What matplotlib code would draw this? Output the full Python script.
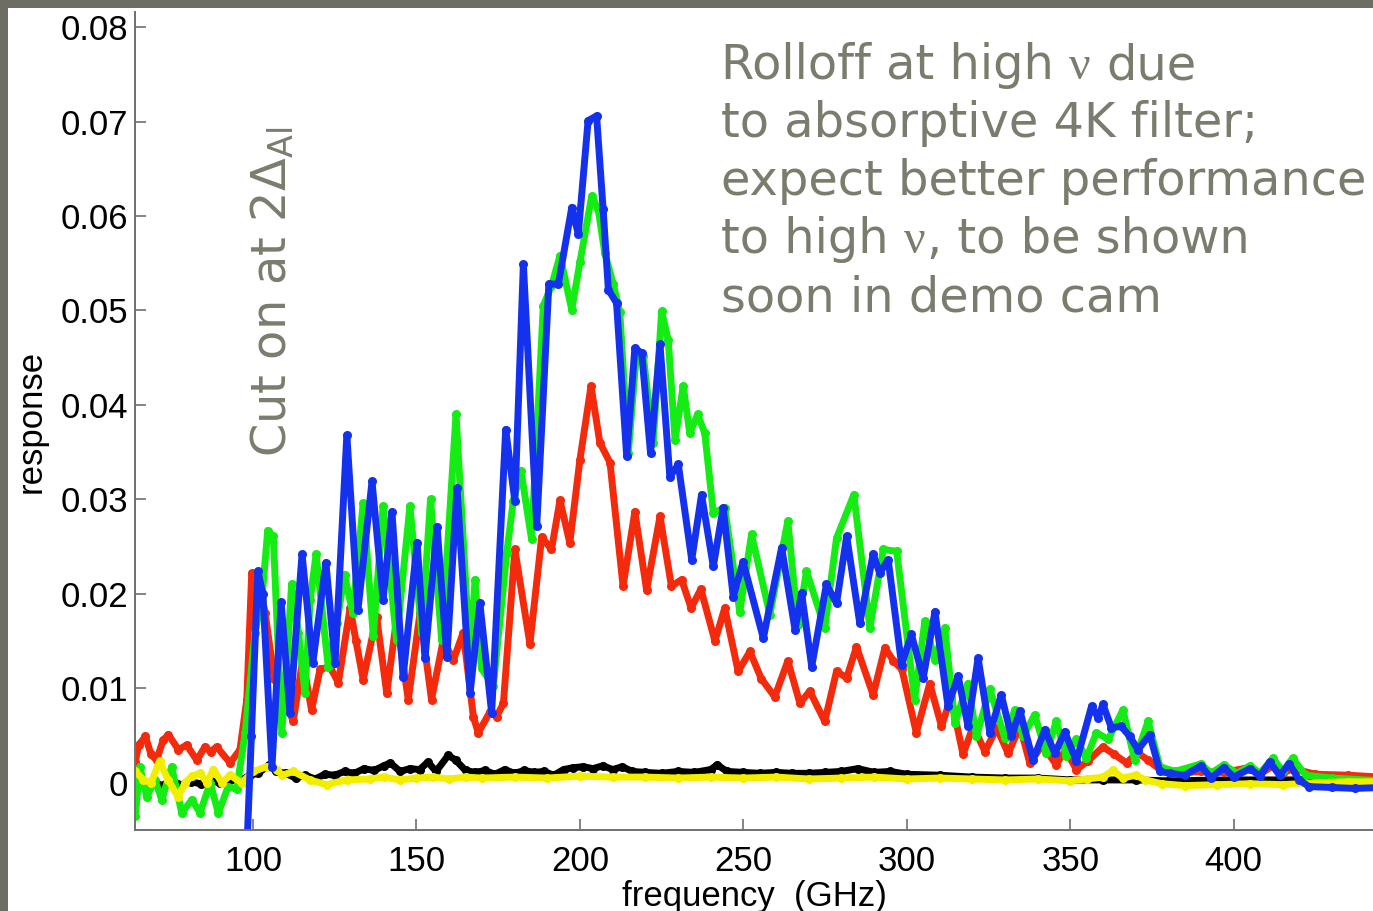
import matplotlib
matplotlib.use("Agg")
import matplotlib.pyplot as plt
from matplotlib.patches import Rectangle
from matplotlib.ticker import FuncFormatter

W, H = 1373, 911

# --- data: frequency (GHz) and response ---
red_freq = [64.0, 65.0, 67.1, 68.8, 70.5, 72.5, 74.1, 77.2, 79.7, 82.8, 85.3, 87.0, 88.9, 93.0,
            96.0, 98.1, 99.6, 101.1, 103.7, 106.5, 109.0, 112.3, 115.2, 117.9, 120.5, 123.5,
            126.1, 129.7, 131.5, 133.7, 137.8, 140.9, 143.9, 147.5, 151.1, 154.6, 158.2, 161.3,
            164.3, 167.4, 168.9, 172.5, 174.5, 176.6, 180.1, 184.7, 188.3, 191.3, 193.9, 196.9,
            200.0, 203.4, 206.1, 209.2, 213.2, 216.8, 220.4, 224.5, 228.0, 231.1, 234.0, 237.0,
            241.3, 244.3, 248.4, 252.0, 255.5, 259.6, 263.6, 267.3, 270.3, 274.9, 278.5, 281.6,
            284.6, 289.7, 293.3, 295.9, 298.5, 302.9, 307.0, 310.6, 313.5, 317.2, 320.3, 323.9,
            327.5, 331.0, 334.6, 337.6, 341.5, 345.7, 348.5, 351.9, 355.4, 360.0, 363.5, 367.2,
            370.5, 373.8, 377.4, 382.0, 390.0, 397.0, 404.5, 408.0, 412.0, 415.0, 418.0, 425.0,
            435.0, 445.0]
red_resp = [0.0022, 0.0040, 0.0049, 0.0030, 0.0024, 0.0045, 0.0051, 0.0035, 0.0040, 0.0024,
            0.0038, 0.0033, 0.0038, 0.0021, 0.0035, 0.0088, 0.0222, 0.0222, 0.0180, 0.0110,
            0.0095, 0.0065, 0.0130, 0.0077, 0.0120, 0.0123, 0.0106, 0.0185, 0.0150, 0.0109,
            0.0176, 0.0095, 0.0173, 0.0088, 0.0180, 0.0088, 0.0151, 0.0130, 0.0159, 0.0070,
            0.0053, 0.0075, 0.0070, 0.0084, 0.0247, 0.0147, 0.0260, 0.0247, 0.0299, 0.0254,
            0.0342, 0.0420, 0.0360, 0.0339, 0.0208, 0.0287, 0.0204, 0.0282, 0.0208, 0.0215,
            0.0185, 0.0205, 0.0150, 0.0185, 0.0118, 0.0139, 0.0110, 0.0091, 0.0129, 0.0084,
            0.0097, 0.0065, 0.0118, 0.0111, 0.0144, 0.0093, 0.0143, 0.0129, 0.0120, 0.0053,
            0.0105, 0.0060, 0.0090, 0.0030, 0.0060, 0.0033, 0.0058, 0.0031, 0.0060, 0.0021,
            0.0040, 0.0019, 0.0035, 0.0014, 0.0023, 0.0038, 0.0030, 0.0021, 0.0032, 0.0024,
            0.0014, 0.0010, 0.0012, 0.0011, 0.0016, 0.0009, 0.0018, 0.0010, 0.0015, 0.0009,
            0.0008, 0.0006]

green_freq = [64.0, 65.4, 67.5, 70.0, 72.1, 75.1, 78.2, 81.3, 83.8, 86.9, 89.4, 92.4, 95.0,
              97.6, 100.6, 102.7, 104.5, 106.2, 108.8, 110.3, 111.8, 113.9, 115.9, 117.5, 119.3,
              123.0, 125.6, 128.0, 130.5, 133.7, 136.8, 139.8, 143.9, 148.0, 151.6, 154.3, 157.7,
              162.1, 166.4, 167.9, 169.9, 173.5, 177.6, 179.6, 182.0, 185.2, 188.8, 191.3, 193.9,
              197.5, 200.0, 203.6, 205.6, 207.6, 210.2, 212.2, 214.8, 217.3, 219.4, 222.4, 225.0,
              227.0, 229.1, 231.6, 233.6, 236.0, 238.2, 240.8, 244.3, 248.9, 252.5, 258.1, 263.6,
              266.7, 269.3, 274.9, 278.5, 283.8, 288.7, 292.8, 296.9, 302.4, 305.5, 308.5, 311.6,
              314.7, 318.7, 321.3, 325.4, 330.0, 333.0, 335.6, 339.1, 342.7, 345.7, 348.8, 351.9,
              354.9, 358.0, 361.6, 366.1, 369.7, 373.8, 377.4, 382.0, 390.0, 393.0, 397.0, 401.0,
              405.0, 408.0, 412.0, 415.0, 418.0, 422.0, 430.0, 445.0]
green_resp = [-0.0035, 0.0017, -0.0015, 0.0003, -0.0018, 0.0017, -0.0032, -0.0018, -0.0032,
              0.0000, -0.0032, -0.0004, -0.0007, 0.0053, 0.0159, 0.0194, 0.0267, 0.0261, 0.0053,
              0.0123, 0.0210, 0.0159, 0.0095, 0.0194, 0.0242, 0.0123, 0.0169, 0.0220, 0.0180,
              0.0296, 0.0155, 0.0293, 0.0151, 0.0293, 0.0159, 0.0300, 0.0151, 0.0390, 0.0130,
              0.0215, 0.0121, 0.0102, 0.0243, 0.0298, 0.0330, 0.0258, 0.0505, 0.0526, 0.0558,
              0.0501, 0.0551, 0.0621, 0.0607, 0.0561, 0.0528, 0.0498, 0.0349, 0.0455, 0.0452,
              0.0360, 0.0499, 0.0469, 0.0363, 0.0420, 0.0370, 0.0390, 0.0370, 0.0286, 0.0291,
              0.0181, 0.0263, 0.0178, 0.0277, 0.0167, 0.0224, 0.0164, 0.0259, 0.0305, 0.0164,
              0.0247, 0.0245, 0.0088, 0.0171, 0.0130, 0.0164, 0.0063, 0.0105, 0.0049, 0.0099,
              0.0047, 0.0077, 0.0049, 0.0072, 0.0031, 0.0065, 0.0028, 0.0046, 0.0026, 0.0053,
              0.0046, 0.0077, 0.0024, 0.0065, 0.0017, 0.0012, 0.0020, 0.0010, 0.0019, 0.0010,
              0.0018, 0.0010, 0.0026, 0.0012, 0.0026, 0.0008, 0.0005, 0.0002]

blue_freq = [98.0, 99.5, 101.5, 103.0, 105.8, 108.6, 111.3, 115.0, 118.3, 122.3, 125.1, 128.7,
             132.1, 136.4, 139.8, 142.5, 145.9, 150.2, 152.6, 156.3, 159.3, 162.4, 166.4, 169.4,
             173.0, 177.3, 180.1, 182.7, 186.8, 190.5, 193.4, 197.5, 199.5, 202.5, 205.1, 207.1,
             208.7, 211.2, 214.3, 216.8, 218.9, 221.6, 224.5, 227.5, 230.1, 234.2, 237.2, 240.8,
             243.8, 246.9, 249.9, 256.1, 261.7, 265.8, 267.8, 270.9, 275.4, 278.5, 281.6, 285.6,
             289.7, 291.7, 294.3, 298.4, 301.4, 305.0, 308.6, 312.6, 315.7, 318.7, 321.8, 325.4,
             328.9, 332.0, 334.6, 338.6, 342.2, 345.3, 348.3, 351.9, 356.5, 358.5, 360.0, 362.6,
             365.5, 368.2, 370.7, 374.3, 377.4, 380.4, 385.0, 390.0, 393.0, 397.0, 400.0, 405.0,
             408.0, 411.0, 414.0, 417.0, 420.0, 423.0, 430.0, 437.0, 445.0]
blue_resp = [-0.0080, 0.0050, 0.0224, 0.0200, 0.0017, 0.0191, 0.0074, 0.0242, 0.0127, 0.0233,
             0.0127, 0.0368, 0.0183, 0.0319, 0.0194, 0.0287, 0.0112, 0.0254, 0.0132, 0.0271,
             0.0133, 0.0312, 0.0095, 0.0190, 0.0074, 0.0374, 0.0298, 0.0549, 0.0272, 0.0528,
             0.0528, 0.0609, 0.0581, 0.0701, 0.0706, 0.0607, 0.0522, 0.0508, 0.0346, 0.0460,
             0.0455, 0.0349, 0.0464, 0.0324, 0.0337, 0.0236, 0.0305, 0.0229, 0.0291, 0.0197,
             0.0234, 0.0153, 0.0249, 0.0162, 0.0201, 0.0123, 0.0210, 0.0190, 0.0261, 0.0169,
             0.0242, 0.0222, 0.0236, 0.0125, 0.0157, 0.0111, 0.0181, 0.0081, 0.0113, 0.0060,
             0.0132, 0.0053, 0.0093, 0.0049, 0.0076, 0.0024, 0.0056, 0.0031, 0.0054, 0.0023,
             0.0081, 0.0069, 0.0083, 0.0058, 0.0060, 0.0049, 0.0035, 0.0051, 0.0012, 0.0010,
             0.0008, 0.0018, 0.0005, 0.0016, 0.0006, 0.0015, 0.0007, 0.0022, 0.0008, 0.0020,
             0.0003, -0.0004, -0.0005, -0.0006, -0.0005]

black_freq = [64, 66, 68, 70, 72, 75, 78, 81, 84, 87, 90, 93, 96, 99, 101.5, 105, 107, 110, 113,
              116, 119, 122, 125, 128, 131, 134, 137, 140, 142, 145, 148, 151, 153.5, 156, 159.7,
              162, 165, 168, 171, 174, 177, 180, 183, 186, 189, 192, 195, 198, 201, 204, 207,
              210, 213, 216, 220, 225, 230, 235, 240, 242, 245, 250, 255, 260, 265, 270, 275,
              280, 285, 290, 295, 300, 310, 320, 330, 340, 350, 360, 370, 380, 400, 420, 445]
black_resp = [-0.0002, 0.0002, -0.0004, 0.0001, -0.0003, 0.0002, -0.0002, 0.0001, -0.0001,
              0.0002, 0.0000, 0.0003, 0.0002, 0.0008, 0.0010, 0.0019, 0.0012, 0.0010, 0.0005,
              0.0008, 0.0004, 0.0009, 0.0008, 0.0012, 0.0010, 0.0015, 0.0013, 0.0018, 0.0021,
              0.0012, 0.0015, 0.0014, 0.0022, 0.0012, 0.0029, 0.0024, 0.0013, 0.0011, 0.0013,
              0.0009, 0.0014, 0.0010, 0.0013, 0.0011, 0.0012, 0.0008, 0.0014, 0.0016, 0.0017,
              0.0015, 0.0018, 0.0014, 0.0017, 0.0012, 0.0011, 0.0010, 0.0012, 0.0011, 0.0014,
              0.0019, 0.0012, 0.0011, 0.0010, 0.0011, 0.0010, 0.0010, 0.0011, 0.0012, 0.0015,
              0.0011, 0.0012, 0.0009, 0.0008, 0.0006, 0.0005, 0.0005, 0.0003, 0.0003, 0.0003,
              0.0002, 0.0003, 0.0003, 0.0002]

yellow_freq = [64, 66.5, 68.8, 71.4, 74, 77.1, 79.2, 81.3, 83.8, 85.9, 87.9, 90.5, 93.0, 96.5,
               100.1, 104.2, 107.2, 109, 112.3, 117.4, 122.5, 128.6, 135.7, 140, 145, 150, 155,
               160, 165, 170, 180, 190, 200, 210, 220, 230, 240, 250, 260, 270, 280, 290, 300,
               310, 320, 330, 340, 350, 355, 360, 363, 366, 370, 373, 378, 385, 395, 405, 415,
               425, 435, 445]
yellow_resp = [0.0012, 0.0003, 0.0000, 0.0023, 0.0003, -0.0015, 0.0000, 0.0007, 0.0010, 0.0000,
               0.0014, 0.0000, 0.0008, 0.0000, 0.0012, 0.0017, 0.0014, 0.0008, 0.0012, 0.0003,
               -0.0002, 0.0003, 0.0004, 0.0006, 0.0003, 0.0005, 0.0006, 0.0004, 0.0006, 0.0005,
               0.0006, 0.0005, 0.0007, 0.0006, 0.0006, 0.0005, 0.0006, 0.0005, 0.0006, 0.0004,
               0.0005, 0.0006, 0.0004, 0.0005, 0.0004, 0.0003, 0.0004, 0.0002, 0.0004, 0.0006,
               0.0013, 0.0005, 0.0008, 0.0003, -0.0001, -0.0003, -0.0002, -0.0001, -0.0002,
               0.0000, 0.0001, 0.0001]

x_ticks = [100, 150, 200, 250, 300, 350, 400]
y_ticks = [0, 0.01, 0.02, 0.03, 0.04, 0.05, 0.06, 0.07, 0.08]

note_lines = [["Rolloff at high", "ν", "due"],
              ["to absorptive 4K filter;"],
              ["expect better performance"],
              ["to high", "ν", ", to be shown"],
              ["soon in demo cam"]]

BG = "#6d6d63"
NOTE = "#7a7c6d"
plt.rcParams["mathtext.fontset"] = "dejavusans"

fig = plt.figure(figsize=(W / 100, H / 100), dpi=100, facecolor=BG)
fig.add_artist(Rectangle((8 / W, 0), 1, 1 - 8 / H, transform=fig.transFigure,
                         facecolor="white", edgecolor="none", zorder=-10))

ax = fig.add_axes([135 / W, 1 - 830 / H, 1 - 135 / W, (830 - 12) / H])
ax.set_facecolor("none")

style = dict(lw=5.0, marker="o", ms=6.5, mew=0, solid_joinstyle="round")
ax.plot(black_freq, black_resp, color="black", **style)
ax.plot(red_freq, red_resp, color="#f42a0c", **style)
ax.plot(green_freq, green_resp, color="#14ec14", **style)
ax.plot(yellow_freq, yellow_resp, color="#f2ee00", **style)
ax.plot(blue_freq, blue_resp, color="#1432ee", **style)

ax.set_xlim(63.9, 442.6)
ax.set_ylim(-0.005, 0.0816)
for s in ["top", "right"]:
    ax.spines[s].set_visible(False)
for s in ["left", "bottom"]:
    ax.spines[s].set_color("#707070")
    ax.spines[s].set_linewidth(1.4)

tick_font = "Liberation Sans"
ax.set_xticks(x_ticks)
ax.set_yticks(y_ticks)
ax.yaxis.set_major_formatter(FuncFormatter(lambda v, p: "0" if abs(v) < 1e-9 else f"{v:.2f}"))
ax.tick_params(axis="both", direction="in", length=8, width=1.2, color="#707070",
               labelsize=25, labelcolor="black")
ax.tick_params(axis="x", pad=11)
ax.tick_params(axis="y", pad=5)
for lab in ax.get_xticklabels() + ax.get_yticklabels():
    lab.set_family(tick_font)

ax.set_xlabel("frequency  (GHz)", fontsize=25, family=tick_font, labelpad=1)
ax.set_ylabel("response", fontsize=25, family=tick_font, labelpad=9)

# rotated cut-on note
fig.text(286 / W, 1 - 457 / H, r"Cut on at 2$\Delta_{\mathrm{Al}}$", rotation=90,
         rotation_mode="anchor", ha="left", va="baseline", fontsize=34.5,
         color=NOTE, family="DejaVu Sans")

# multi-line note with serif nu
for i, parts in enumerate(note_lines):
    y = H - (79 + 58.1 * i)
    t = ax.annotate(parts[0], xy=(721, y), xycoords="figure pixels", ha="left",
                    va="baseline", fontsize=34.5, color=NOTE, family="DejaVu Sans")
    for k, part in enumerate(parts[1:]):
        serif = part == "ν"
        gap = 11 if (serif or not part.startswith(",")) else 1
        t = ax.annotate(part, xy=(1, 0), xycoords=t, xytext=(gap, 0),
                        textcoords="offset points", ha="left", va="bottom",
                        fontsize=34.5, color=NOTE,
                        family="Liberation Serif" if serif else "DejaVu Sans")

fig.savefig("out.png", dpi=100, facecolor=BG)
